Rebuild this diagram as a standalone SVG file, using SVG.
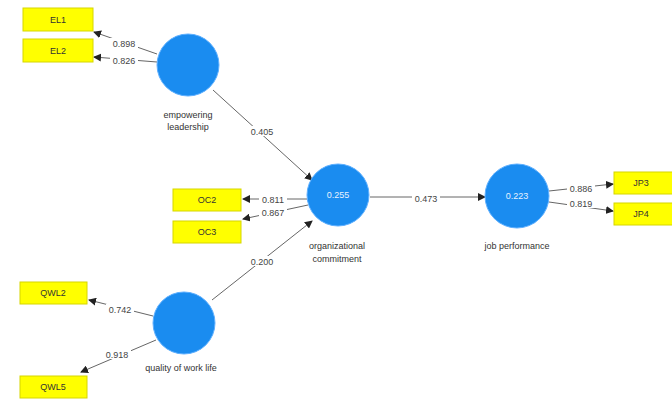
<svg xmlns="http://www.w3.org/2000/svg" width="672" height="400" viewBox="0 0 672 400">
<defs>
<marker id="ah" markerWidth="8" markerHeight="8" refX="7" refY="4" orient="auto" markerUnits="userSpaceOnUse">
<path d="M0,0 L8,4 L0,8 Z" fill="#222"/>
</marker>
<style>
.lv{fill:#1a8cf0;stroke:#5fb0ff;stroke-width:1}
.mv{fill:#ffff00;stroke:#d6d600;stroke-width:1}
.c{stroke:#666;stroke-width:1;fill:none;marker-end:url(#ah)}
.t{font-family:"Liberation Sans",Arial,sans-serif;font-size:9px;fill:#333;text-anchor:middle}
.w{font-family:"Liberation Sans",Arial,sans-serif;font-size:9px;fill:#e8f2ff;text-anchor:middle}
.lb{font-family:"Liberation Sans",Arial,sans-serif;font-size:9px;fill:#444;text-anchor:middle}
.bg{fill:#fff}
</style>
</defs>
<rect width="672" height="400" fill="#fff"/>
<g id="connectors">
<line class="c" x1="157" y1="54" x2="94" y2="32"/>
<line class="c" x1="157" y1="62" x2="94" y2="57"/>
<line class="c" x1="213" y1="90" x2="312" y2="180"/>
<line class="c" x1="307" y1="199" x2="243" y2="199"/>
<line class="c" x1="308" y1="205" x2="243" y2="219"/>
<line class="c" x1="212" y1="300" x2="312" y2="221"/>
<line class="c" x1="370" y1="197" x2="485" y2="197"/>
<line class="c" x1="549" y1="191" x2="613" y2="184"/>
<line class="c" x1="549" y1="202" x2="613" y2="211"/>
<line class="c" x1="153" y1="316" x2="89" y2="300"/>
<line class="c" x1="156" y1="340" x2="81" y2="372"/>
<rect class="bg" x="110" y="38" width="28" height="10"/>
<text class="lb" x="124" y="47">0.898</text>
<rect class="bg" x="110" y="55" width="28" height="10"/>
<text class="lb" x="124" y="64">0.826</text>
<rect class="bg" x="248" y="126" width="28" height="10"/>
<text class="lb" x="262" y="135">0.405</text>
<rect class="bg" x="259" y="194" width="28" height="10"/>
<text class="lb" x="273" y="203">0.811</text>
<rect class="bg" x="259" y="207" width="28" height="10"/>
<text class="lb" x="273" y="216">0.867</text>
<rect class="bg" x="248" y="256" width="28" height="10"/>
<text class="lb" x="262" y="265">0.200</text>
<rect class="bg" x="412" y="193" width="28" height="10"/>
<text class="lb" x="426" y="202">0.473</text>
<rect class="bg" x="567" y="183" width="28" height="10"/>
<text class="lb" x="581" y="192">0.886</text>
<rect class="bg" x="567" y="198" width="28" height="10"/>
<text class="lb" x="581" y="207">0.819</text>
<rect class="bg" x="106" y="304" width="28" height="10"/>
<text class="lb" x="120" y="313">0.742</text>
<rect class="bg" x="103" y="349" width="28" height="10"/>
<text class="lb" x="117" y="358">0.918</text>
</g>
<g id="EL1"><rect class="mv" x="23" y="8" width="70" height="23"/><text class="t" x="58" y="23">EL1</text></g>
<g id="EL2"><rect class="mv" x="23" y="39" width="70" height="23"/><text class="t" x="58" y="54">EL2</text></g>
<g id="OC2"><rect class="mv" x="173" y="189" width="68" height="22"/><text class="t" x="207" y="203">OC2</text></g>
<g id="OC3"><rect class="mv" x="173" y="221" width="68" height="22"/><text class="t" x="207" y="235">OC3</text></g>
<g id="QWL2"><rect class="mv" x="20" y="282" width="67" height="22"/><text class="t" x="53" y="296">QWL2</text></g>
<g id="QWL5"><rect class="mv" x="20" y="376" width="67" height="22"/><text class="t" x="53" y="390">QWL5</text></g>
<g id="JP3"><rect class="mv" x="614" y="172" width="60" height="22"/><text class="t" x="641" y="186">JP3</text></g>
<g id="JP4"><rect class="mv" x="614" y="203" width="60" height="22"/><text class="t" x="641" y="217">JP4</text></g>
<g id="empowering_leadership">
<circle class="lv" cx="188" cy="65" r="31"/>
<text class="t" x="188" y="118">empowering</text>
<text class="t" x="188" y="130">leadership</text>
</g>
<g id="organizational_commitment">
<circle class="lv" cx="338" cy="195" r="31"/>
<text class="w" x="338" y="198">0.255</text>
<text class="t" x="337" y="249">organizational</text>
<text class="t" x="337" y="262">commitment</text>
</g>
<g id="job_performance">
<circle class="lv" cx="517" cy="196" r="32"/>
<text class="w" x="517" y="199">0.223</text>
<text class="t" x="517" y="249">job performance</text>
</g>
<g id="quality_of_work_life">
<circle class="lv" cx="184" cy="323" r="31"/>
<text class="t" x="181" y="371">quality of work life</text>
</g>
</svg>
